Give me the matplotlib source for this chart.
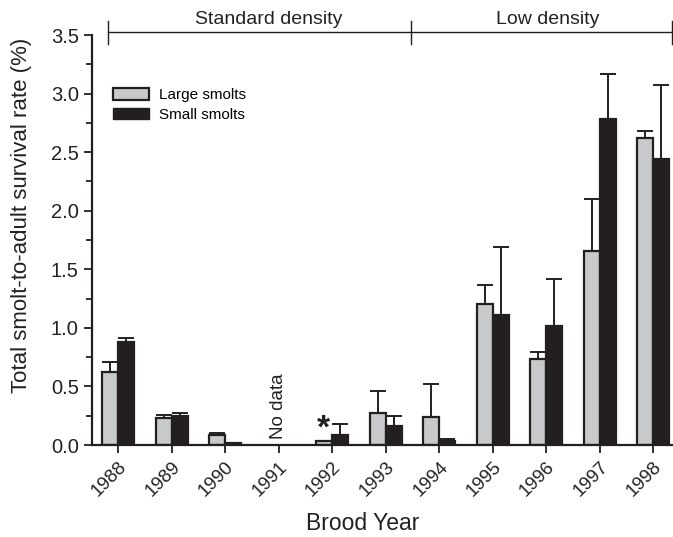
import numpy as np
import matplotlib.pyplot as plt
from matplotlib.patches import Patch

plt.rcParams['font.family'] = ['Liberation Sans', 'DejaVu Sans']

years = ['1988', '1989', '1990', '1991', '1992', '1993', '1994', '1995', '1996', '1997', '1998']
large = [0.62, 0.23, 0.085, np.nan, 0.03, 0.27, 0.24, 1.20, 0.73, 1.66, 2.62]
large_err = [0.09, 0.03, 0.02, np.nan, 0.0, 0.19, 0.28, 0.17, 0.06, 0.44, 0.06]
small = [0.88, 0.25, 0.02, np.nan, 0.085, 0.165, 0.03, 1.11, 1.02, 2.78, 2.44]
small_err = [0.03, 0.02, 0.0, np.nan, 0.095, 0.085, 0.02, 0.58, 0.40, 0.39, 0.63]

gray = '#c8c9cb'
dark = '#231f20'
txt = '#222222'

fig = plt.figure(figsize=(6.73, 5.37), dpi=100)
ax = fig.add_axes([0.1367, 0.1713, 0.8619, 0.7635])

x = np.arange(len(years))
w = 0.3
ax.bar(x - w / 2, large, w, color=gray, edgecolor=dark, linewidth=1.6,
       yerr=[np.zeros(len(x)), large_err], capsize=6,
       error_kw=dict(ecolor=dark, elinewidth=1.4, capthick=1.4))
ax.bar(x + w / 2, small, w, color=dark, edgecolor=dark, linewidth=1.6,
       yerr=[np.zeros(len(x)), small_err], capsize=6,
       error_kw=dict(ecolor=dark, elinewidth=1.4, capthick=1.4))

ax.set_xlim(-0.49, 10.35)
ax.set_ylim(0, 3.5)
ax.set_xticks(x)
ax.set_xticklabels(years, rotation=45, fontsize=13.5, ha='right', rotation_mode='anchor')
ax.set_yticks(np.arange(0, 3.51, 0.5))
ax.set_yticklabels(['%.1f' % v for v in np.arange(0, 3.51, 0.5)], fontsize=14.5)
ax.set_yticks(np.arange(0.25, 3.5, 0.5), minor=True)
ax.tick_params(axis='both', which='major', length=6, width=1.3, color=dark, labelcolor=txt)
ax.tick_params(axis='y', which='minor', length=4, width=1.3, color=dark)
for s in ['top', 'right']:
    ax.spines[s].set_visible(False)
for s in ['left', 'bottom']:
    ax.spines[s].set_linewidth(1.6)
    ax.spines[s].set_color(dark)

ax.set_xlabel('Brood Year', fontsize=16.5, color=txt)
ax.xaxis.set_label_coords(0.467, -0.163)
ax.set_ylabel('Total smolt-to-adult survival rate (%)', fontsize=16, color=txt)
ax.yaxis.set_label_coords(-0.104, 0.559)

# density bracket along the top
yb = 3.527
ax.plot([-0.19, 10.34], [yb, yb], color=dark, lw=1, clip_on=False)
for xv in [-0.19, 5.48, 10.34]:
    ax.plot([xv, xv], [yb - 0.1, yb + 0.09], color=dark, lw=1, clip_on=False)
ax.text(2.82, 3.595, 'Standard density', ha='center', va='baseline', fontsize=14, color=txt)
ax.text(8.02, 3.595, 'Low density', ha='center', va='baseline', fontsize=14, color=txt)

ax.text(3, 0.05, 'No data', rotation=90, ha='center', va='bottom', fontsize=13.5, color=txt)
ax.text(3.83, 0.0, '*', ha='center', va='bottom', fontsize=24, fontweight='bold', color=dark)

handles = [Patch(facecolor=gray, edgecolor=dark, linewidth=1.6, label='Large smolts'),
           Patch(facecolor=dark, edgecolor=dark, label='Small smolts')]
ax.legend(handles=handles, loc='upper left', bbox_to_anchor=(0.012, 0.905), frameon=False,
          fontsize=11, handlelength=2.4, handleheight=0.82, labelspacing=0.37,
          handletextpad=0.6)

fig.savefig('out.png', dpi=100)
